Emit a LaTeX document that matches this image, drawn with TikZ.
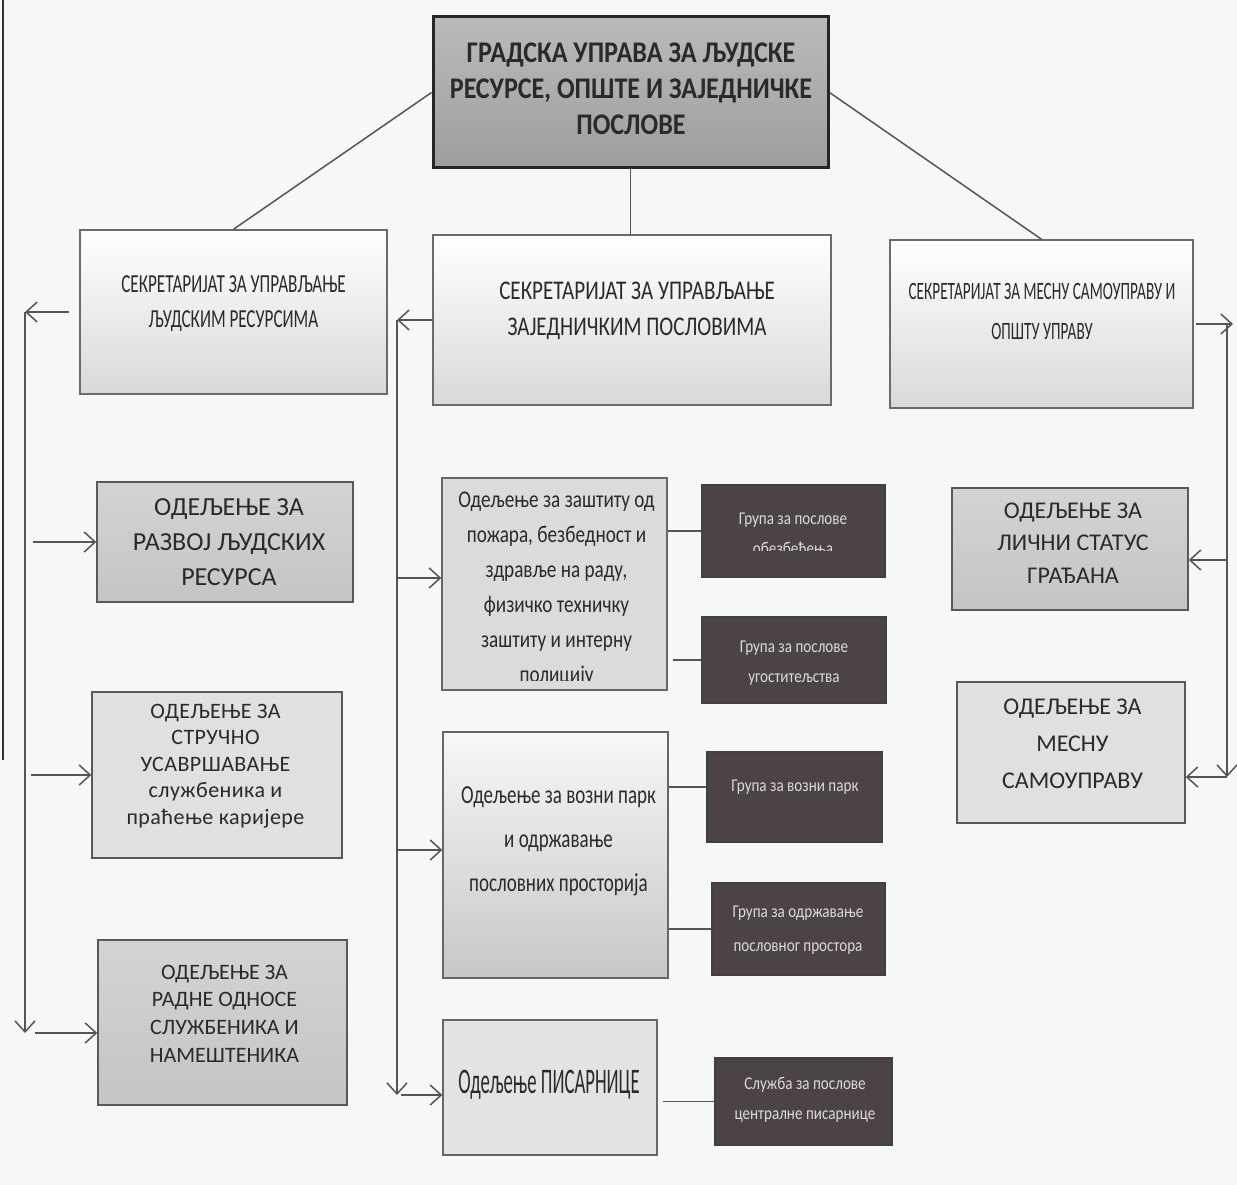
\documentclass[tikz,border=0pt]{standalone}
\usepackage{fontspec}
\setmainfont{Carlito}
\usetikzlibrary{arrows.meta}
\newcommand\fsz[3]{\fontsize{#1}{#2}\selectfont\addfontfeatures{FakeStretch=#3}}
\definecolor{bgc}{HTML}{F6F8F8}
\definecolor{bordc}{HTML}{6B6B6B}
\definecolor{linec}{HTML}{555555}
\definecolor{grpc}{HTML}{4B4345}
\definecolor{grptxt}{HTML}{DADADA}
\definecolor{txtc}{HTML}{2A2A2A}
\begin{document}
\begin{tikzpicture}[x=1pt,y=-1pt,
  box/.style={rectangle, inner sep=0pt, line width=1.4pt, draw=bordc},
  topbox/.style={box, draw=black!85, line width=3pt, top color=black!27, bottom color=black!38},
  secbox/.style={box, top color=white, bottom color=black!15},
  deptdark/.style={box, draw=black!65, top color=black!17, bottom color=black!23},
  deptlight/.style={box, draw=black!65, fill=black!12},
  subbox/.style={box, draw=black!60, fill=black!14},
  grpbox/.style={box, draw=black!75, fill=grpc},
  txt/.style={align=center, inner sep=0pt, text=txtc},
  grptxtst/.style={txt, text=grptxt},
  conn/.style={draw=linec, line width=1.5pt},
  arr/.style={conn, -{Straight Barb[length=11pt,width=20pt,line width=1.5pt]}}]
\fill[bgc] (0,0) rectangle (1237,1185);
\useasboundingbox (0,0) rectangle (1237,1185);
\draw[black!80, line width=2pt] (3,0) -- (3,760);

% boxes
\node[topbox, minimum width=395pt, minimum height=151pt] (top) at (630.5,92.5) {};
\node[secbox, minimum width=307pt, minimum height=164pt] (s1) at (233.5,312) {};
\node[secbox, minimum width=398pt, minimum height=170pt] (s2) at (632,320) {};
\node[secbox, minimum width=303pt, minimum height=168pt] (s3) at (1041.5,324) {};
\node[deptdark, minimum width=256pt, minimum height=120pt] (razvoj) at (225,542) {};
\node[deptlight, minimum width=250pt, minimum height=166pt] (strucno) at (217,775) {};
\node[deptdark, minimum width=249pt, minimum height=165pt] (radne) at (222.5,1022.5) {};
\node[subbox, minimum width=225pt, minimum height=212pt] (fire) at (554.5,584) {};
\node[grpbox, minimum width=183pt, minimum height=92pt] (g1) at (793.5,531) {};
\node[grpbox, minimum width=184pt, minimum height=86pt] (g2) at (794,660) {};
\node[box, draw=black!60, top color=black!3, bottom color=black!22, minimum width=225pt, minimum height=246pt] (vozni) at (555.5,855) {};
\node[grpbox, minimum width=175pt, minimum height=90pt] (g3) at (794.5,797) {};
\node[grpbox, minimum width=173pt, minimum height=92pt] (g4) at (798.5,929) {};
\node[subbox, fill=black!11, minimum width=214pt, minimum height=135pt] (pis) at (550,1087.5) {};
\node[grpbox, minimum width=177pt, minimum height=87pt] (sl) at (803.5,1101.5) {};
\node[deptdark, minimum width=236pt, minimum height=122pt] (licni) at (1070,549) {};
\node[deptlight, minimum width=228pt, minimum height=141pt] (mesnu) at (1071,752.5) {};

% texts
\node[txt, font=\bfseries\fsz{30}{36}{0.87}] (topt) at (631,89) {ГРАДСКА УПРАВА ЗА ЉУДСКЕ\\РЕСУРСЕ, ОПШТЕ И ЗАЈЕДНИЧКЕ\\ПОСЛОВЕ};
\node[txt, font=\fsz{26}{35}{0.66}] (s1t) at (233.5,304) {СЕКРЕТАРИЈАТ ЗА УПРАВЉАЊЕ\\ЉУДСКИМ РЕСУРСИМА};
\node[txt, font=\fsz{27}{36}{0.78}] (s2t) at (637,311) {СЕКРЕТАРИЈАТ ЗА УПРАВЉАЊЕ\\ЗАЈЕДНИЧКИМ ПОСЛОВИМА};
\node[txt, font=\fsz{25}{40}{0.61}] (s3t) at (1042,311) {СЕКРЕТАРИЈАТ ЗА МЕСНУ САМОУПРАВУ И\\ОПШТУ УПРАВУ};
\node[txt, font=\fsz{26}{35}{1}] (razvojt) at (229,542) {ОДЕЉЕЊЕ ЗА\\РАЗВОЈ ЉУДСКИХ\\РЕСУРСА};
\node[txt, font=\fsz{22}{26.5}{1}\addfontfeatures{LetterSpace=2}] (strucnot) at (215.5,766) {ОДЕЉЕЊЕ ЗА\\СТРУЧНО\\УСАВРШАВАЊЕ\\службеника и\\праћење каријере};
\node[txt, font=\fsz{22}{27.7}{1}] (radnet) at (224.5,1013.5) {ОДЕЉЕЊЕ ЗА\\РАДНЕ ОДНОСЕ\\СЛУЖБЕНИКА И\\НАМЕШТЕНИКА};
\node[txt, font=\fsz{24}{32.5}{1}] (licnit) at (1073,543) {ОДЕЉЕЊЕ ЗА\\ЛИЧНИ СТАТУС\\ГРАЂАНА};
\node[txt, font=\fsz{24}{37}{1}] (mesnut) at (1072.5,744) {ОДЕЉЕЊЕ ЗА\\МЕСНУ\\САМОУПРАВУ};
\begin{scope}
\clip (fire.north west) rectangle ([yshift=10pt]fire.south east);
\node[txt, font=\fsz{24}{35}{0.8}] (firet) at (556.5,589.5) {Одељење за заштиту од\\пожара, безбедност и\\здравље на раду,\\физичко техничку\\заштиту и интерну\\полицију};
\end{scope}
\node[txt, font=\fsz{26}{44}{0.73}] (voznit) at (558.5,841) {Одељење за возни парк\\и одржавање\\пословних просторија};
\node[txt, font=\fsz{36}{40}{0.52}] (pist) at (549,1085) {Одељење ПИСАРНИЦЕ};
\begin{scope}
\clip (g1.north west) rectangle ([yshift=-19pt]g1.east);
\node[grptxtst, font=\fsz{18}{30}{0.84}] (g1t) at (793,535) {Група за послове\\обезбеђења};
\end{scope}
\node[grptxtst, font=\fsz{18}{30}{0.84}] (g2t) at (794,663) {Група за послове\\угоститељства};
\node[grptxtst, font=\fsz{18}{30}{0.84}] (g3t) at (795,787) {Група за возни парк};
\node[grptxtst, font=\fsz{18}{34}{0.84}] (g4t) at (798,930) {Група за одржавање\\пословног простора};
\node[grptxtst, font=\fsz{18}{30}{0.84}] (slt) at (805,1100) {Служба за послове\\централне писарнице};

% top connectors
\draw[conn] (top.west) -- (s1.north);
\draw[conn] (top.south) -- (top.south |- s2.north);
\draw[conn] (top.east) -- (s3.north);

% left bus
\coordinate (lb1) at (25,312);
\coordinate (lb2) at (25,1033);
\draw[arr, shorten <=10pt] (s1.west) -- (lb1);
\draw[arr] (lb1) -- (lb2);
\draw[arr, shorten <=8pt] (lb1 |- razvoj.west) -- (razvoj.west);
\draw[arr, shorten <=6pt] (lb1 |- strucno.west) -- (strucno.west);
\draw[arr, shorten <=10pt] (lb2) -- (lb2 -| radne.west);

% middle bus
\coordinate (mb1) at (397,320);
\coordinate (mb2) at (397,1095);
\coordinate (mf) at (397,578);
\coordinate (mv) at (397,850);
\draw[arr] (s2.west) -- (mb1);
\draw[arr] (mb1) -- (mb2);
\draw[arr] (mf) -- (mf -| fire.west);
\draw[arr] (mv) -- (mv -| vozni.west);
\draw[arr, shorten <=4pt] (mb2) -- (mb2 -| pis.west);

% right bus
\coordinate (rtip) at (1233,324);
\coordinate (rb1) at (1227,324);
\coordinate (rb2) at (1227,777);
\coordinate (rl) at (1227,560);
\draw[arr, shorten <=2pt] (s3.east) -- (rtip);
\draw[arr] (rb1) -- (rb2);
\draw[arr] (rl) -- (rl -| licni.east);
\draw[arr] (rb2) -- (rb2 -| mesnu.east);

% sub-group connectors
\draw[conn] (fire.east |- g1.west) -- (g1.west);
\draw[conn, shorten <=5pt] (fire.east |- g2.west) -- (g2.west);
\draw[conn] ([yshift=10pt]g3.west -| vozni.east) -- ([yshift=10pt]g3.west);
\draw[conn] (vozni.east |- g4.west) -- (g4.west);
\draw[conn, shorten <=5pt] (pis.east |- sl.west) -- (sl.west);
\end{tikzpicture}
\end{document}
